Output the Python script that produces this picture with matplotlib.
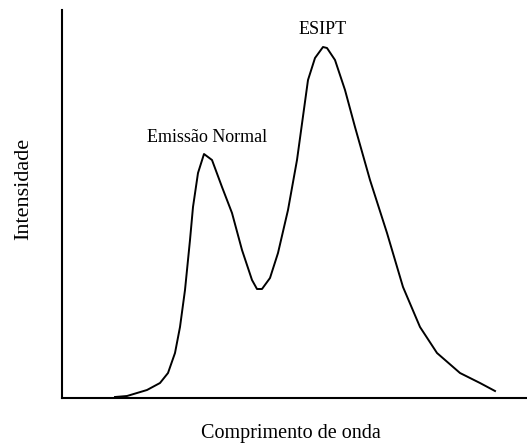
import matplotlib.pyplot as plt

# leitura aproximada do espectro (unidades arbitrarias)
comprimento = [53, 65, 85, 98, 106, 113, 118, 123, 128, 131, 136, 142, 150, 160,
               170, 180, 190, 195, 200, 208, 216, 226, 235, 246, 253, 261, 265,
               273, 283, 293, 308, 325, 341, 358, 375, 398, 418, 433]
intensidade = [1, 2, 8, 15, 25, 45, 71, 108, 158, 191, 225, 244, 238, 211,
               185, 148, 118, 109, 109, 120, 145, 188, 238, 318, 340, 351, 350,
               338, 308, 271, 218, 165, 111, 71, 45, 25, 15, 7]

rotulos = ["Emissão Normal", "ESIPT"]
pos_rotulos = [(145, 261), (261, 368)]

plt.rcParams['font.family'] = ['Liberation Serif', 'DejaVu Serif']

fig = plt.figure(figsize=(5.27, 4.43), dpi=100)
ax = fig.add_axes([62 / 527, 45 / 443, 465 / 527, 388 / 443])

ax.plot(comprimento, intensidade, color='black', lw=1.4)
for txt, (x, y) in zip(rotulos, pos_rotulos):
    ax.text(x, y, txt, ha='center', va='center', fontsize=13)

ax.set_xlim(0, 465)
ax.set_ylim(0, 388)
ax.set_xticks([])
ax.set_yticks([])
ax.spines['top'].set_visible(False)
ax.spines['right'].set_visible(False)
ax.spines['left'].set_linewidth(1.5)
ax.spines['bottom'].set_linewidth(1.5)

ax.set_xlabel("Comprimento de onda", fontsize=14.5)
ax.xaxis.label.set_va('baseline')
ax.xaxis.set_label_coords(0.4925, -0.103)
ax.set_ylabel("Intensidade", fontsize=16)
ax.yaxis.label.set_va('center')
ax.yaxis.set_label_coords(-0.082, 0.539)

fig.savefig("out.png", dpi=100)
